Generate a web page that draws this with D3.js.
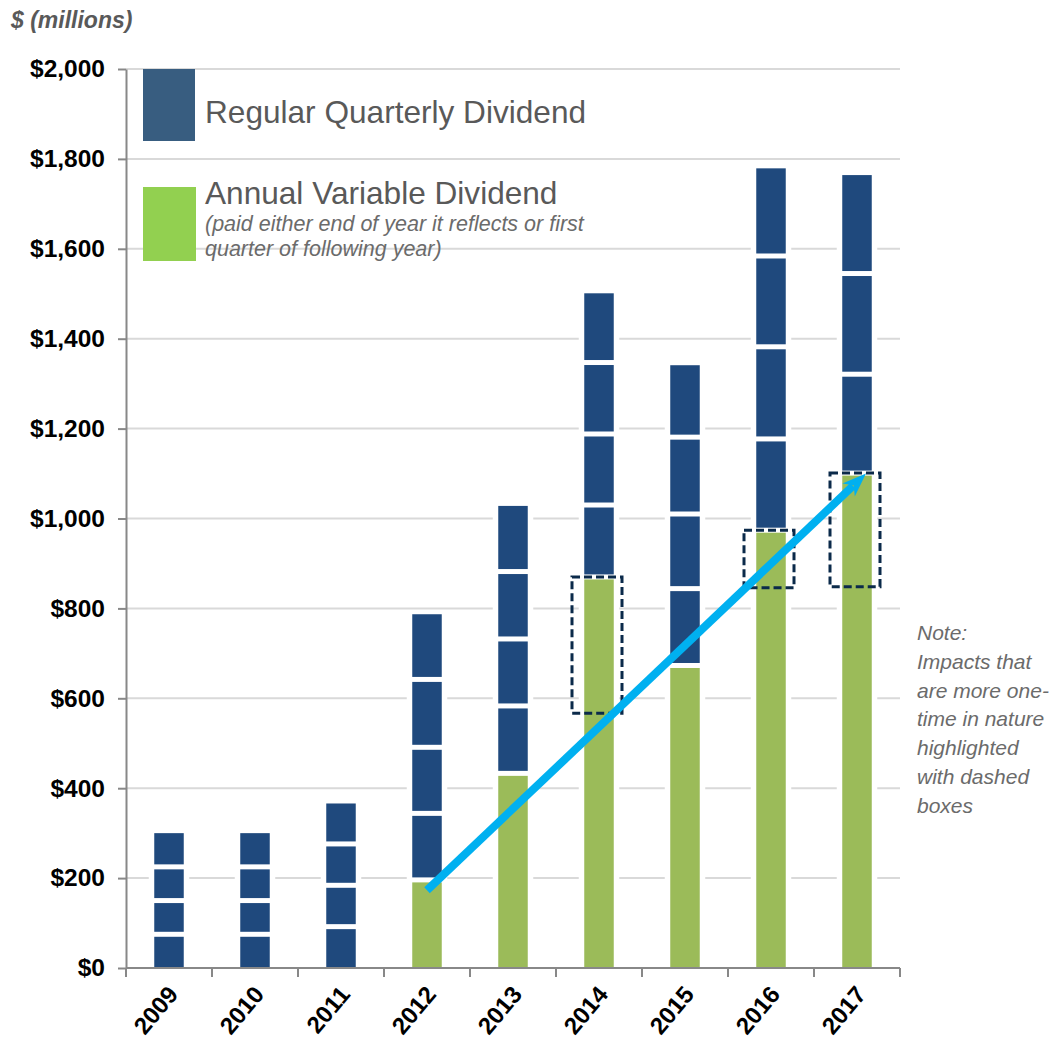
<!DOCTYPE html>
<html>
<head>
<meta charset="utf-8">
<script src="https://cdn.jsdelivr.net/npm/d3@7"></script>
<style>
  body { margin: 0; background: #fff; }
  svg { font-family: "Liberation Sans", Arial, sans-serif; }
</style>
</head>
<body>
<div id="chart"></div>
<script>
// values ($ millions)
const years = ["2009", "2010", "2011", "2012", "2013", "2014", "2015", "2016", "2017"];
const variableDividend = [0, 0, 0, 196, 433, 870, 673, 974, 1101];
const quarterlyDividends = [
  [75, 75, 75, 75],
  [75, 75, 75, 75],
  [92, 92, 92, 90],
  [148, 147, 151, 145],
  [150, 149, 150, 146],
  [160, 158, 159, 154],
  [171, 166, 171, 160],
  [203, 205, 202, 195],
  [220, 224, 219]
];
const dashedBoxes = [
  { year: "2014", low: 567, high: 870 },
  { year: "2016", low: 846, high: 974 },
  { year: "2017", low: 848, high: 1101 }
];
const trendArrow = { fromYear: "2012", fromValue: 173, toYear: "2017", toValue: 1100 };
const yTicks = [0, 200, 400, 600, 800, 1000, 1200, 1400, 1600, 1800, 2000];
const legendItems = ["Regular Quarterly Dividend", "Annual Variable Dividend"];
const legendNote = ["(paid either end of year it reflects or first", "quarter of following year)"];
const noteLines = ["Note:", "Impacts that", "are more one-", "time in nature", "highlighted", "with dashed", "boxes"];

const config = {
  width: 1053,
  height: 1048,
  left: 126, right: 900, top: 69, bottom: 968
};
const colors = {
  quarterly: "#1f497d",
  variable: "#9bbb59",
  legendQuarterly: "#385d80",
  legendVariable: "#92d050",
  grid: "#d9d9d9",
  axis: "#888888",
  box: "#0b2a4a",
  arrow: "#00b0f0",
  text: "#595959"
};

const svg = d3.select("#chart").append("svg")
  .attr("width", config.width)
  .attr("height", config.height);

const x = d3.scaleBand()
  .domain(years)
  .range([config.left, config.right])
  .paddingInner(0.657)
  .paddingOuter(0.3285);
const y = d3.scaleLinear().domain([0, 2000]).range([config.bottom, config.top]);
const step = x.step();
const bw = x.bandwidth();

// gridlines
svg.append("g")
  .selectAll("line")
  .data(yTicks.filter(d => d > 0))
  .join("line")
  .attr("x1", config.left).attr("x2", config.right)
  .attr("y1", d => y(d)).attr("y2", d => y(d))
  .attr("stroke", colors.grid)
  .attr("stroke-width", 2);

// build segments per year
const columns = years.map((year, i) => {
  const segs = [];
  let base = 0;
  if (variableDividend[i] > 0) {
    segs.push({ year, type: "variable", y0: 0, y1: variableDividend[i] });
    base = variableDividend[i];
  }
  quarterlyDividends[i].forEach(q => {
    segs.push({ year, type: "quarterly", y0: base, y1: base + q });
    base += q;
  });
  segs[segs.length - 1].isTop = true;
  return { year, total: base, segs };
});

// white halo behind each column (breaks the gridlines)
svg.append("g")
  .selectAll("rect")
  .data(columns)
  .join("rect")
  .attr("x", d => x(d.year) - 5.5)
  .attr("width", bw + 11)
  .attr("y", d => y(d.total) - 2)
  .attr("height", d => y(0) - y(d.total) + 2)
  .attr("fill", "#fff");

// stacked segments
svg.append("g")
  .selectAll("rect")
  .data(columns.flatMap(c => c.segs))
  .join("rect")
  .attr("x", d => x(d.year))
  .attr("width", bw)
  .attr("y", d => y(d.y1) + (d.isTop ? 0 : 2.5))
  .attr("height", d => (y(d.y0) - (d.y0 === 0 ? 1 : 2.5)) - (y(d.y1) + (d.isTop ? 0 : 2.5)))
  .attr("fill", d => d.type === "variable" ? colors.variable : colors.quarterly);

// axes
const yAxis = d3.axisLeft(y)
  .tickValues(yTicks)
  .tickFormat(d => "$" + d3.format(",")(d))
  .tickSize(8)
  .tickSizeOuter(0)
  .tickPadding(13);
const yAxisG = svg.append("g")
  .attr("transform", `translate(${config.left},0)`)
  .call(yAxis);
yAxisG.select(".domain").attr("stroke", colors.axis).attr("stroke-width", 2);
yAxisG.selectAll(".tick line").attr("stroke", colors.axis).attr("stroke-width", 2);
yAxisG.selectAll(".tick text")
  .attr("fill", "#000")
  .style("font-size", "24.5px")
  .style("font-weight", "bold");

// x axis line + ticks at category boundaries
svg.append("line")
  .attr("x1", config.left).attr("x2", config.right)
  .attr("y1", y(0)).attr("y2", y(0))
  .attr("stroke", colors.axis).attr("stroke-width", 2);
const edges = years.map(yr => x(yr) + bw / 2 - step / 2).concat([x(years[years.length - 1]) + bw / 2 + step / 2]);
svg.append("g")
  .selectAll("line")
  .data(edges)
  .join("line")
  .attr("x1", d => d).attr("x2", d => d)
  .attr("y1", y(0)).attr("y2", y(0) + 9)
  .attr("stroke", colors.axis).attr("stroke-width", 2);

svg.append("g")
  .selectAll("text")
  .data(years)
  .join("text")
  .attr("transform", d => `translate(${x(d) + bw / 2 - 3},${y(0) + 16}) rotate(-50)`)
  .attr("text-anchor", "end")
  .attr("dy", "0.72em")
  .style("font-size", "24px")
  .style("font-weight", "bold")
  .attr("fill", "#000")
  .text(d => d);

// dashed boxes for one-time impacts
svg.append("g")
  .selectAll("rect")
  .data(dashedBoxes)
  .join("rect")
  .attr("x", d => x(d.year) + bw / 2 - 27)
  .attr("width", 50)
  .attr("y", d => y(d.high))
  .attr("height", d => y(d.low) - y(d.high))
  .attr("fill", "none")
  .attr("stroke", colors.box)
  .attr("stroke-width", 3)
  .attr("stroke-dasharray", "8,4");

// trend arrow
const ax0 = x(trendArrow.fromYear) + bw / 2;
const ay0 = y(trendArrow.fromValue);
const ax1 = x(trendArrow.toYear) + bw / 2 + 9;
const ay1 = y(trendArrow.toValue);
const len = Math.hypot(ax1 - ax0, ay1 - ay0);
const ux = (ax1 - ax0) / len, uy = (ay1 - ay0) / len;
const headLen = 24, headHalf = 9;
svg.append("line")
  .attr("x1", ax0).attr("y1", ay0)
  .attr("x2", ax1 - ux * (headLen - 6)).attr("y2", ay1 - uy * (headLen - 6))
  .attr("stroke", colors.arrow)
  .attr("stroke-width", 8);
const bx = ax1 - ux * headLen, by = ay1 - uy * headLen;
const nx = ax1 - ux * (headLen - 7), ny = ay1 - uy * (headLen - 7);
svg.append("path")
  .attr("d", `M${ax1},${ay1} L${bx - uy * headHalf},${by + ux * headHalf} L${nx},${ny} L${bx + uy * headHalf},${by - ux * headHalf} Z`)
  .attr("fill", colors.arrow);

// unit label
svg.append("text")
  .attr("x", 11).attr("y", 28)
  .style("font-size", "23px")
  .style("font-weight", "bold")
  .style("font-style", "italic")
  .attr("fill", "#595959")
  .text("$ (millions)");

// legend
const legend = svg.append("g");
legend.append("rect")
  .attr("x", 143).attr("y", 69).attr("width", 52).attr("height", 72)
  .attr("fill", colors.legendQuarterly);
legend.append("rect")
  .attr("x", 143).attr("y", 187).attr("width", 53).attr("height", 74)
  .attr("fill", colors.legendVariable);
legend.append("text")
  .attr("x", 205).attr("y", 123)
  .style("font-size", "31.6px")
  .attr("fill", colors.text)
  .text(legendItems[0]);
legend.append("text")
  .attr("x", 205).attr("y", 204)
  .style("font-size", "31.6px")
  .attr("fill", colors.text)
  .text(legendItems[1]);
legend.append("g")
  .selectAll("text")
  .data(legendNote)
  .join("text")
  .attr("x", 205)
  .attr("y", (d, i) => 231 + i * 25)
  .style("font-size", "21.5px")
  .style("font-style", "italic")
  .attr("fill", "#6b6b6b")
  .text(d => d);

// side note
svg.append("g")
  .selectAll("text")
  .data(noteLines)
  .join("text")
  .attr("x", 917)
  .attr("y", (d, i) => 640 + i * 28.8)
  .style("font-size", "21px")
  .style("font-style", "italic")
  .attr("fill", "#6b6b6b")
  .text(d => d);
</script>
</body>
</html>
